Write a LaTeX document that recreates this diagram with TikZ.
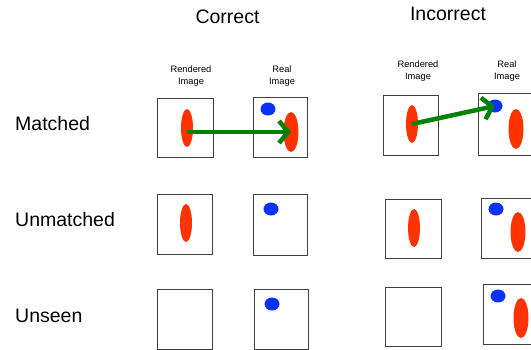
\documentclass[tikz,border=0pt]{standalone}
\usepackage{fontspec}
\setmainfont{Liberation Sans}
\usetikzlibrary{shapes.geometric,arrows.meta}
\definecolor{boxgray}{RGB}{64,64,64}
\definecolor{blobred}{RGB}{255,51,0}
\definecolor{blobblue}{RGB}{10,50,255}
\definecolor{arrgreen}{RGB}{0,130,0}
\tikzset{
  imgbox/.style={draw=boxgray, line width=1pt, fill=white, inner sep=0pt},
  redblob/.style={ellipse, fill=blobred, inner sep=0pt, minimum width=12pt, minimum height=38pt},
  bigred/.style={ellipse, fill=blobred, inner sep=0pt, minimum width=15pt, minimum height=40pt},
  blueblob/.style={ellipse, fill=blobblue, inner sep=0pt, minimum width=15pt, minimum height=13pt},
  colhead/.style={font=\fontsize{19.5}{23}\selectfont, inner sep=0pt, anchor=base},
  rowhead/.style={font=\fontsize{19.5}{23}\selectfont, inner sep=0pt, anchor=base west},
  smalllab/.style={font=\fontsize{9.3}{11.5}\selectfont, inner sep=0pt, align=center, anchor=base},
  garrow/.style={draw=arrgreen, line width=4.5pt, -{Straight Barb[length=9pt,width=22pt]}},
}
\begin{document}
\begin{tikzpicture}[x=1pt,y=-1pt]
\useasboundingbox (0,0) rectangle (531,349);
\clip (0,0) rectangle (531,349);
% headers
\node[colhead] (hc) at (227.5,23) {Correct};
\node[colhead] (hi) at (448,20) {Incorrect};
\node[rowhead] (rm) at (15,130) {Matched};
\node[rowhead] (ru) at (15,226) {Unmatched};
\node[rowhead] (rs) at (15,322) {Unseen};
\node[smalllab] (lcr) at (191,84) {Rendered\\Image};
\node[smalllab] (lcl) at (282,84) {Real\\Image};
\node[smalllab] (lir) at (418,79) {Rendered\\Image};
\node[smalllab] (lil) at (507,79) {Real\\Image};
% row 1 correct
\node[imgbox, minimum width=56pt, minimum height=59pt] (b1cr) at (185,127.5) {};
\node[imgbox, minimum width=54pt, minimum height=60pt] (b1cl) at (280,127) {};
\node[redblob] (r1cr) at (187,128) {};
\node[blueblob] (u1cl) at (268,109) {};
\node[bigred] (r1cl) at (291,132) {};
% row 1 incorrect
\node[imgbox, minimum width=55pt, minimum height=60pt] (b1ir) at (410.5,125) {};
\node[imgbox, minimum width=55pt, minimum height=62pt] (b1il) at (505.5,124) {};
\node[redblob] (r1ir) at (412,124) {};
\node[blueblob] (u1il) at (495,106) {};
\node[bigred] (r1il) at (516,129) {};
% row 2 correct
\node[imgbox, minimum width=55pt, minimum height=60pt] (b2cr) at (184.5,224) {};
\node[imgbox, minimum width=54pt, minimum height=61pt] (b2cl) at (280,224.5) {};
\node[redblob] (r2cr) at (186,223) {};
\node[blueblob] (u2cl) at (271,209) {};
% row 2 incorrect
\node[imgbox, minimum width=56pt, minimum height=59pt] (b2ir) at (413,228.5) {};
\node[imgbox, minimum width=55pt, minimum height=60pt] (b2il) at (508.5,228) {};
\node[redblob] (r2ir) at (414,228) {};
\node[blueblob] (u2il) at (496,209) {};
\node[bigred] (r2il) at (518,232) {};
% row 3 correct
\node[imgbox, minimum width=55pt, minimum height=60pt] (b3cr) at (184.5,319.5) {};
\node[imgbox, minimum width=54pt, minimum height=60pt] (b3cl) at (281,319.5) {};
\node[blueblob] (u3cl) at (272,304) {};
% row 3 incorrect
\node[imgbox, minimum width=56pt, minimum height=59pt] (b3ir) at (413,316.5) {};
\node[imgbox, minimum width=55pt, minimum height=60pt] (b3il) at (510.5,314) {};
\node[blueblob] (u3il) at (498,296) {};
\node[bigred] (r3il) at (521,318) {};
% arrows
\draw[garrow] (r1cr.center |- r1cl.center) -- (r1cl.center);
\draw[garrow] (r1ir.center) -- (u1il.center);
\end{tikzpicture}
\end{document}
